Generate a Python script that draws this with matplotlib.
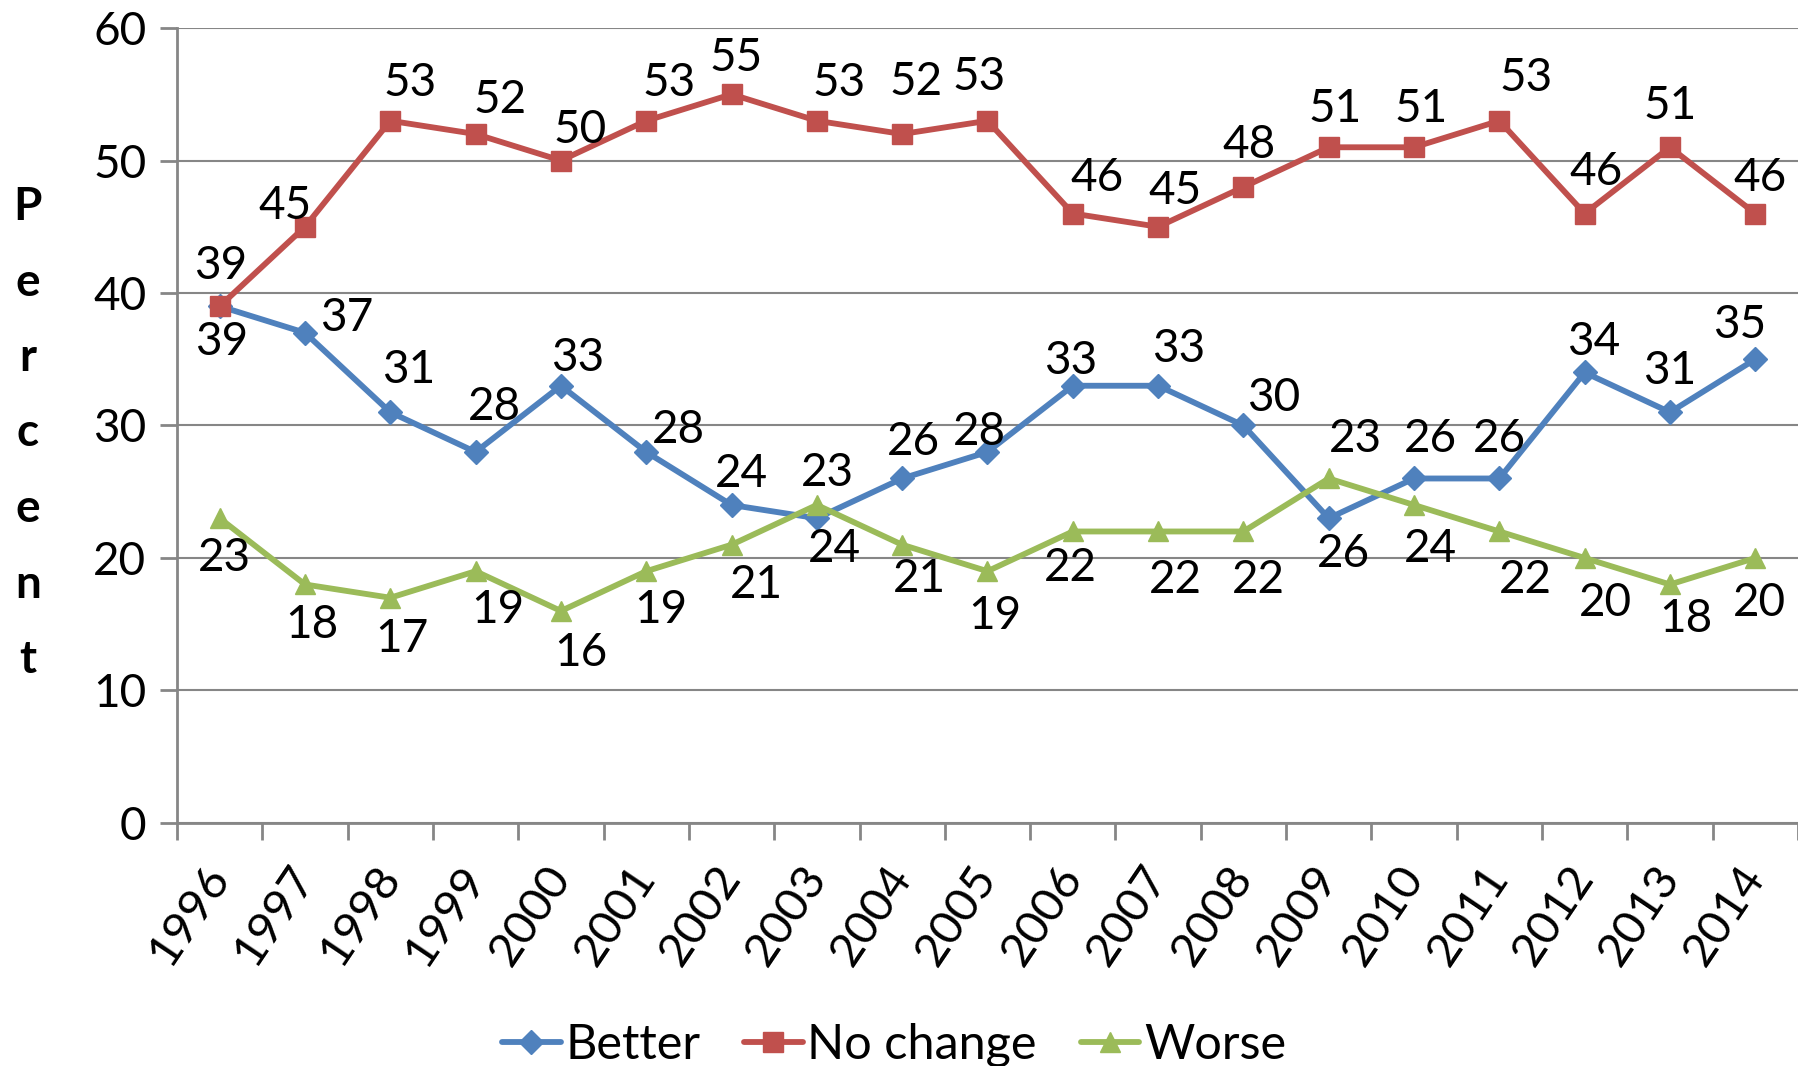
import matplotlib.pyplot as plt
import numpy as np

plt.rcParams['font.family'] = ['Lato', 'DejaVu Sans']

years = [str(y) for y in range(1996, 2015)]
better = [39, 37, 31, 28, 33, 28, 24, 23, 26, 28, 33, 33, 30, 23, 26, 26, 34, 31, 35]
no_change = [39, 45, 53, 52, 50, 53, 55, 53, 52, 53, 46, 45, 48, 51, 51, 53, 46, 51, 46]
worse = [23, 18, 17, 19, 16, 19, 21, 24, 21, 19, 22, 22, 22, 26, 24, 22, 20, 18, 20]

# label offsets (px in a 1568-wide view, y down)
off_better = [(2, 31), (36, -13), (16, -37), (16, -39), (15, -24), (28, -19), (9, -27),
              (9, -39), (10, -32), (-7, -17), (-2, -22), (18, -32), (26, -24), (23, -69),
              (14, -34), (0, -34), (8, -27), (0, -36), (-14, -30)]
off_nochange = [(1, -35), (-17, -18), (17, -33), (21, -30), (17, -27), (20, -33), (4, -32),
                (19, -33), (12, -45), (-7, -38), (21, -31), (15, -31), (5, -37), (6, -33),
                (6, -33), (23, -37), (10, -36), (0, -36), (4, -31)]
off_worse = [(4, 35), (6, 35), (10, 36), (19, 34), (17, 37), (13, 34), (22, 35), (15, 38),
             (15, 30), (6, 39), (-2, 32), (15, 42), (13, 42), (13, 66), (14, 38), (23, 42),
             (18, 39), (14, 30), (4, 39)]

BLUE, RED, GREEN = "#4F81BD", "#C0504D", "#9BBB59"
GRID = "#868686"
FS = 33

fig = plt.figure(figsize=(17.99, 10.66), dpi=100)
ax = fig.add_axes([0.0984, 0.228, 0.9010, 0.7457])

x = np.arange(len(years))
series = [
    ("Better", better, BLUE, "D", 12.5, off_better),
    ("No change", no_change, RED, "s", 14.5, off_nochange),
    ("Worse", worse, GREEN, "^", 15, off_worse),
]
scale = 1799 / 1568 * 72 / 100
for name, vals, col, mk, ms, offs in series:
    ax.plot(x, vals, color=col, lw=4.2, marker=mk, markersize=ms, label=name,
            solid_capstyle='round', zorder=3)
    for xi, v, (dx, dy) in zip(x, vals, offs):
        ax.annotate(str(v), (xi, v), xytext=(dx * scale, -dy * scale),
                    textcoords='offset points', ha='center', va='center',
                    fontsize=FS, color='black', zorder=4)

ax.set_xlim(-0.5, len(years) - 0.5)
ax.set_ylim(0, 60)
ax.set_yticks(range(0, 61, 10))
ax.yaxis.grid(True, color=GRID, lw=1.5)
ax.set_axisbelow(True)
for s in ['top', 'right']:
    ax.spines[s].set_visible(False)
for s in ['left', 'bottom']:
    ax.spines[s].set_color(GRID)
    ax.spines[s].set_linewidth(2)

ax.set_xticks(np.arange(len(years) + 1) - 0.5, minor=True)
ax.set_xticks(x)
ax.set_xticklabels(years, rotation=56, ha='right', va='center', rotation_mode='anchor')
ax.tick_params(axis='x', which='major', length=0, pad=34, labelsize=34)
ax.tick_params(axis='x', which='minor', length=12, width=2, color=GRID)
ax.tick_params(axis='y', length=12, width=2, color=GRID, labelsize=FS, pad=10)

# vertical stacked axis label
for i, ch in enumerate("Percent"):
    fig.text(0.0155, 1 - (207 + i * 75.5) / 1066, ch, fontsize=FS, fontweight='bold',
             ha='center', va='center')

fig.legend(loc='lower center', bbox_to_anchor=(0.497, -0.042), ncol=3, frameon=False,
           fontsize=35, handlelength=1.2, handletextpad=0.1, columnspacing=0.9)

fig.savefig("out.png", dpi=100)
